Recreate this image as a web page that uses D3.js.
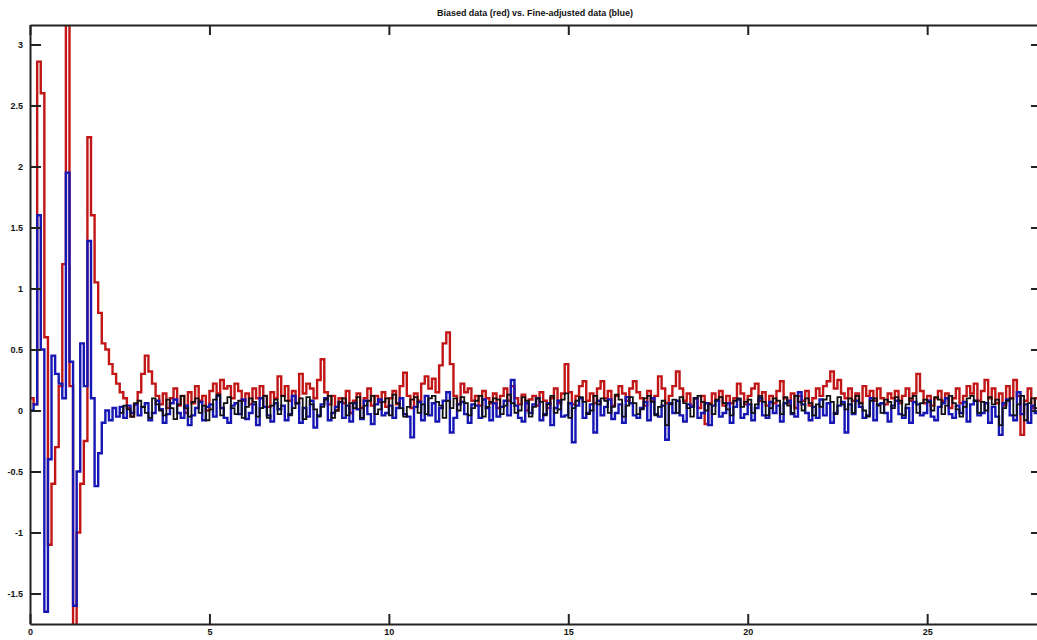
<!DOCTYPE html>
<html>
<head>
<meta charset="utf-8">
<script src="https://cdn.jsdelivr.net/npm/d3@7"></script>
<style>
  html, body { margin: 0; padding: 0; background: #fff; }
  svg { display: block; }
  text { font-family: "Liberation Sans", Arial, sans-serif; }
</style>
</head>
<body>
<svg id="chart" width="1037" height="640"></svg>
<script>
// ---- data (sampled every 0.1 time units, starting at 0) ----
const title = "Biased data (red) vs. Fine-adjusted data (blue)";
const tStart = 0, tStep = 0.1;
const xTicks = [0, 5, 10, 15, 20, 25];
const xTickLabels = ["0", "5", "10", "15", "20", "25"];
const yTicks = [-1.5, -1, -0.5, 0, 0.5, 1, 1.5, 2, 2.5, 3];
const yTickLabels = ["-1.5", "-1", "-0.5", "0", "0.5", "1", "1.5", "2", "2.5", "3"];

const redSeries = [
  0.10, 0.05, 2.86, 2.60, 0.60, -1.10, -0.60, -0.30, 0.20, 1.20,
  3.30, 0.20, -1.90, -1.00, -0.60, -0.25, 2.24, 1.60, 1.05, 0.80,
  0.55, 0.50, 0.38, 0.30, 0.22, 0.15, 0.10, 0.02, -0.05, 0.05,
  0.15, 0.30, 0.45, 0.32, 0.22, 0.12, 0.05, 0.14, 0.02, 0.10,
  0.18, 0.04, 0.12, -0.02, 0.15, 0.06, 0.20, 0.08, 0.12, 0.00,
  0.16, 0.22, 0.14, 0.25, 0.18, 0.20, 0.10, 0.22, 0.16, 0.08,
  0.14, 0.05, 0.18, 0.10, 0.20, 0.12, 0.03, 0.15, 0.10, 0.28,
  0.12, 0.20, 0.08, 0.16, 0.06, 0.30, 0.14, 0.22, 0.18, 0.10,
  0.25, 0.42, 0.15, 0.05, 0.12, 0.00, 0.10, 0.06, 0.16, -0.02,
  0.08, 0.14, 0.02, 0.10, 0.18, 0.04, 0.12, 0.07, 0.15, 0.03,
  0.10, 0.16, 0.05, 0.20, 0.31, 0.12, 0.02, 0.14, 0.08, 0.22,
  0.28, 0.18, 0.26, 0.15, 0.37, 0.55, 0.64, 0.38, 0.12, 0.05,
  0.22, 0.15, 0.18, 0.08, 0.12, 0.04, 0.16, 0.10, 0.06, 0.14,
  0.02, 0.12, 0.18, 0.08, 0.20, 0.10, 0.05, 0.13, 0.00, 0.09,
  0.12, 0.04, 0.15, 0.08, 0.02, 0.10, 0.18, 0.06, 0.14, 0.38,
  0.15, 0.05, 0.12, 0.20, 0.24, 0.08, 0.14, 0.06, 0.18, 0.24,
  0.10, 0.16, 0.04, 0.12, 0.20, 0.14, 0.08, 0.18, 0.24, 0.15,
  0.10, 0.04, 0.16, 0.08, 0.12, 0.28, 0.18, 0.06, 0.12, 0.20,
  0.32, 0.18, 0.08, 0.14, 0.04, 0.10, 0.02, 0.12, -0.11, 0.06,
  0.14, 0.08, 0.16, 0.04, 0.12, 0.06, 0.10, 0.22, 0.14, 0.05,
  0.12, 0.18, 0.22, 0.08, 0.15, 0.04, 0.12, 0.06, 0.16, 0.24,
  0.10, 0.06, 0.14, 0.02, 0.12, 0.08, 0.16, 0.04, 0.10, 0.18,
  0.12, 0.20, 0.24, 0.32, 0.18, 0.25, 0.14, 0.10, 0.18, 0.08,
  0.14, 0.06, 0.20, 0.12, 0.16, 0.08, 0.18, 0.10, 0.05, 0.14,
  0.10, 0.16, 0.06, 0.12, 0.18, 0.08, 0.14, 0.30, 0.16, 0.06,
  0.12, 0.04, 0.10, 0.16, 0.08, 0.14, 0.02, 0.10, 0.18, 0.06,
  0.12, 0.20, 0.14, 0.22, 0.08, 0.16, 0.25, 0.10, 0.18, 0.06,
  0.14, 0.04, 0.20, 0.10, 0.25, 0.12, -0.20, 0.08, 0.18, 0.02,
  0.10, 0.05
];

const blueSeries = [
  0.00, 0.05, 1.60, 0.50, -1.65, -0.40, 0.45, 0.30, 0.22, 0.10,
  1.95, 0.40, -1.60, -0.50, 0.55, 0.20, 1.39, 0.10, -0.62, -0.35,
  -0.10, 0.00, -0.08, 0.02, -0.05, 0.03, -0.06, 0.04, -0.02, 0.05,
  -0.04, 0.03, 0.06, -0.08, -0.02, 0.08, 0.01, -0.10, -0.03, 0.06,
  0.09, -0.02, -0.06, 0.04, -0.12, -0.04, 0.02, 0.07, -0.08, 0.03,
  0.05, -0.05, 0.12, 0.02, -0.06, -0.10, 0.04, 0.06, -0.03, 0.09,
  -0.07, -0.02, 0.05, -0.12, 0.10, 0.03, -0.04, -0.09, 0.06, 0.01,
  0.04, -0.08, -0.03, 0.12, 0.06, -0.10, 0.02, -0.05, 0.08, -0.14,
  -0.04, 0.05, 0.10, -0.08, -0.02, 0.03, 0.07, -0.06, 0.04, -0.09,
  0.06, 0.01, -0.07, 0.08, -0.03, -0.11, 0.05, 0.09, -0.04, -0.02,
  0.04, -0.06, 0.02, 0.10, -0.03, -0.05, -0.22, 0.03, 0.07, -0.08,
  0.12, -0.04, 0.06, -0.09, 0.02, 0.08, 0.15, -0.18, -0.06, 0.05,
  0.07, -0.03, -0.10, 0.05, 0.04, -0.06, 0.09, 0.02, -0.08, 0.06,
  -0.05, 0.03, 0.08, -0.04, 0.25, 0.04, -0.06, -0.09, 0.06, -0.02,
  0.05, 0.10, -0.08, -0.03, 0.06, -0.12, 0.02, 0.08, -0.05, -0.04,
  0.06, -0.26, 0.04, 0.10, -0.06, -0.02, 0.05, -0.18, 0.08, -0.04,
  0.03, 0.09, -0.07, -0.02, 0.05, -0.10, 0.11, 0.06, -0.04, -0.06,
  0.02, 0.07, -0.08, 0.10, -0.03, -0.05, 0.04, -0.24, 0.06, -0.02,
  0.08, -0.04, -0.09, 0.05, 0.03, 0.10, -0.06, -0.02, 0.06, -0.12,
  0.04, 0.08, -0.05, -0.02, 0.06, -0.10, 0.03, 0.09, -0.06, -0.03,
  0.05, -0.08, 0.02, 0.10, -0.04, -0.06, 0.07, -0.02, 0.04, -0.09,
  0.06, 0.08, -0.03, -0.05, 0.15, 0.05, -0.02, -0.08, 0.03, -0.06,
  0.09, -0.04, 0.06, -0.10, -0.02, 0.04, 0.07, -0.18, 0.05, -0.03,
  0.08, 0.03, -0.06, -0.04, 0.10, -0.08, 0.05, 0.06, -0.02, -0.09,
  0.04, 0.08, -0.03, -0.06, 0.02, -0.10, 0.07, 0.05, -0.04, -0.02,
  0.08, -0.05, -0.08, 0.03, 0.06, 0.10, -0.03, -0.06, 0.04, -0.02,
  0.07, -0.09, 0.05, 0.08, -0.04, -0.02, 0.06, -0.10, 0.03, -0.05,
  -0.20, 0.06, 0.09, -0.04, -0.08, 0.15, -0.03, 0.05, -0.10, 0.04,
  -0.02, 0.03
];

const blackSeries = [
  null, null, null, null, null, null, null, null, null, null,
  null, null, null, null, null, null, null, null, null, null,
  null, null, null, null, null, -0.02, 0.04, 0.01, -0.05, 0.06,
  0.08, 0.03, -0.02, -0.06, 0.10, 0.05, 0.00, -0.04, 0.09, 0.02,
  -0.07, 0.05, 0.12, 0.02, -0.05, 0.07, 0.10, -0.02, 0.04, -0.08,
  0.01, 0.09, 0.13, -0.04, 0.06, 0.11, 0.02, -0.03, 0.08, -0.06,
  0.03, 0.10, 0.07, -0.05, 0.02, 0.12, -0.06, 0.04, 0.09, -0.03,
  0.12, 0.08, -0.04, 0.02, 0.06, 0.10, -0.07, 0.11, 0.05, 0.01,
  -0.05, 0.03, 0.09, 0.12, -0.06, 0.00, 0.07, 0.10, -0.04, 0.06,
  0.02, 0.11, -0.06, 0.04, 0.08, 0.12, -0.03, 0.01, 0.07, 0.10,
  -0.04, 0.13, 0.06, 0.02, -0.05, 0.03, 0.09, 0.11, -0.02, 0.05,
  -0.03, 0.10, 0.12, 0.07, 0.04, -0.06, 0.08, 0.02, 0.10, 0.00,
  0.11, 0.06, -0.04, 0.02, 0.08, 0.12, -0.05, 0.03, 0.07, 0.10,
  0.09, -0.03, 0.04, 0.13, 0.06, -0.02, 0.00, 0.11, 0.08, -0.05,
  0.03, 0.10, 0.07, -0.04, 0.05, 0.12, -0.02, 0.01, 0.09, 0.14,
  -0.06, 0.02, 0.08, 0.11, 0.07, -0.03, 0.00, 0.12, 0.05, 0.10,
  0.08, -0.02, 0.03, 0.13, 0.09, -0.05, 0.04, 0.11, 0.06, -0.03,
  0.01, 0.10, 0.12, 0.07, -0.04, 0.03, 0.08, -0.12, 0.05, 0.09,
  -0.02, 0.11, 0.06, 0.02, -0.05, 0.10, 0.12, 0.07, 0.00, 0.05,
  -0.03, 0.09, 0.11, 0.06, 0.01, -0.04, 0.08, 0.10, 0.03, 0.07,
  0.09, -0.02, 0.05, 0.12, 0.07, -0.04, 0.02, 0.10, 0.08, -0.03,
  0.11, 0.04, -0.02, 0.12, 0.07, 0.00, 0.10, 0.06, -0.04, 0.05,
  0.03, 0.09, 0.12, 0.07, -0.03, 0.11, 0.05, 0.01, 0.10, -0.02,
  0.12, 0.06, 0.00, -0.05, 0.08, 0.10, 0.04, -0.02, 0.09, 0.07,
  0.02, 0.11, 0.08, -0.04, 0.05, 0.10, 0.12, -0.02, 0.06, 0.09,
  0.07, 0.00, 0.11, 0.09, -0.03, 0.04, 0.12, 0.06, 0.01, -0.05,
  0.03, 0.10, 0.12, 0.08, -0.02, 0.07, 0.00, 0.11, 0.05, 0.09,
  -0.12, 0.02, 0.08, 0.10, -0.04, 0.05, 0.12, -0.08, 0.06, 0.10,
  0.02, 0.05
];

// ---- layout ----
const svg = d3.select("#chart");
const W = 1037, H = 640;
const plot = { left: 30, right: 1042, top: 25, bottom: 624 };

svg.append("rect").attr("width", W).attr("height", H).attr("fill", "#fff");

const x = d3.scaleLinear().domain([0, 28.2]).range([plot.left, plot.right]);
const y = d3.scaleLinear().domain([-1.75, 3.16]).range([plot.bottom, plot.top]);

svg.append("defs").append("clipPath").attr("id", "clip")
  .append("rect")
  .attr("x", plot.left).attr("y", plot.top)
  .attr("width", plot.right - plot.left).attr("height", plot.bottom - plot.top);

const toPts = arr => arr.map((v, i) => ({ t: tStart + i * tStep, v }));

const line = d3.line()
  .defined(d => d.v !== null)
  .x(d => x(d.t)).y(d => y(d.v))
  .curve(d3.curveStepAfter);

const g = svg.append("g").attr("clip-path", "url(#clip)");
g.append("path").datum(toPts(redSeries))
  .attr("d", line).attr("fill", "none")
  .attr("stroke", "#c21616").attr("stroke-width", 2.4);
g.append("path").datum(toPts(blueSeries))
  .attr("d", line).attr("fill", "none")
  .attr("stroke", "#1616b4").attr("stroke-width", 2.4);
g.append("path").datum(toPts(blackSeries))
  .attr("d", line).attr("fill", "none")
  .attr("stroke", "#111").attr("stroke-width", 1.8);

// ---- axes (box with inward ticks) ----
const axisColor = "#222";
const bottomAxis = d3.axisBottom(x).tickValues(xTicks)
  .tickFormat((d, i) => xTickLabels[i]).tickSizeInner(-10).tickSizeOuter(0).tickPadding(5);
const topAxis = d3.axisTop(x).tickValues(xTicks).tickFormat("").tickSizeInner(-10).tickSizeOuter(0);
const leftAxis = d3.axisLeft(y).tickValues(yTicks)
  .tickFormat((d, i) => yTickLabels[i]).tickSizeInner(-11).tickSizeOuter(0).tickPadding(7);
const rightAxis = d3.axisRight(y).tickValues(yTicks).tickFormat("").tickSizeInner(-11).tickSizeOuter(0);

function styleAxis(sel) {
  sel.select(".domain").attr("stroke", axisColor).attr("stroke-width", 2);
  sel.selectAll(".tick line").attr("stroke", axisColor).attr("stroke-width", 2);
  sel.selectAll(".tick text").attr("fill", "#111")
    .style("font-size", "9px").style("font-weight", "bold");
}

svg.append("g").attr("transform", `translate(0,${plot.bottom})`).call(bottomAxis).call(styleAxis);
svg.append("g").attr("transform", `translate(0,${plot.top})`).call(topAxis).call(styleAxis);
svg.append("g").attr("transform", `translate(${plot.left},0)`).call(leftAxis).call(styleAxis);
svg.append("g").attr("transform", `translate(${plot.right},0)`).call(rightAxis).call(styleAxis);

// ---- title ----
svg.append("text")
  .attr("x", 535).attr("y", 16)
  .attr("text-anchor", "middle")
  .attr("textLength", 196).attr("lengthAdjust", "spacingAndGlyphs")
  .style("font-size", "9px").style("font-weight", "bold").attr("fill", "#111")
  .text(title);
</script>
</body>
</html>
